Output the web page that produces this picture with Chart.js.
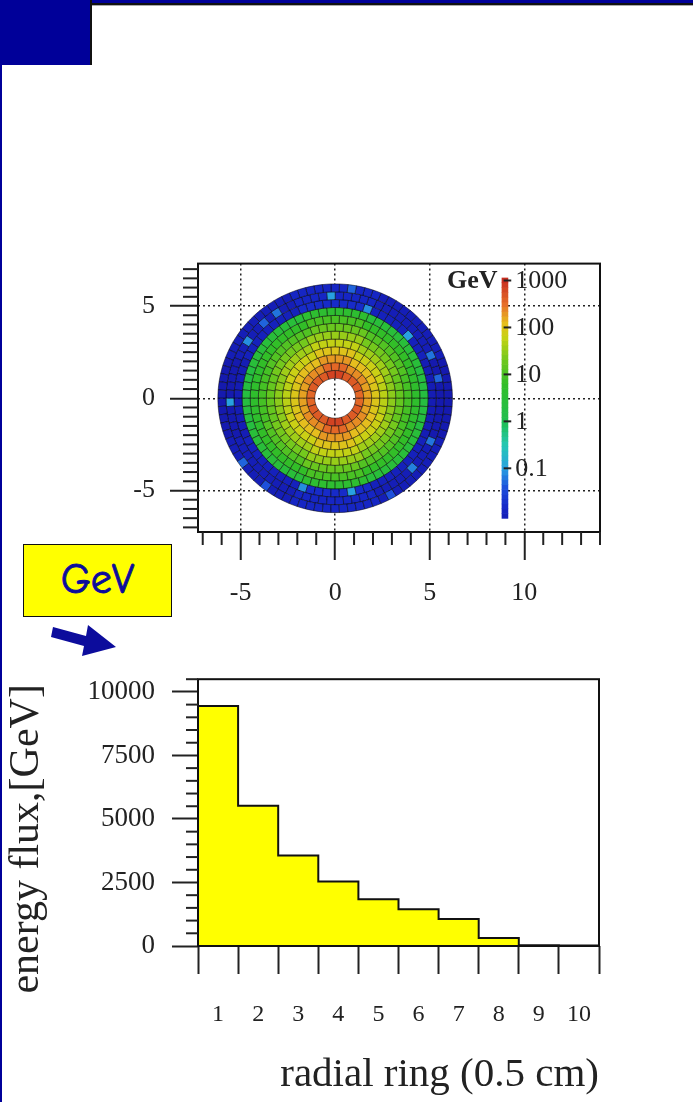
<!DOCTYPE html>
<html>
<head>
<meta charset="utf-8">
<script src="https://cdn.jsdelivr.net/npm/chart.js@4.4.1/dist/chart.umd.min.js"></script>
<style>
  html, body { margin: 0; padding: 0; background: #fff; }
  body { width: 693px; height: 1102px; position: relative; overflow: hidden; }
  .bar-top { position: absolute; left: 0; top: 0; width: 693px; height: 3px; background: #000099; }
  .line-top { position: absolute; left: 90px; top: 3px; width: 603px; height: 2px; background: #111; }
  .line-top2 { position: absolute; left: 92px; top: 5px; width: 601px; height: 1px; background: #aaa; }
  .corner { position: absolute; left: 0; top: 0; width: 90px; height: 65px; background: #000099; border-right: 2px solid #111; }
  .left-edge { position: absolute; left: 0; top: 0; width: 2px; height: 1102px; background: #000099; }
  canvas { position: absolute; }
  #heat { left: 100px; top: 233px; }
  #flux { left: 2px; top: 646px; }
  .gev-box {
    position: absolute; left: 23px; top: 544px; width: 149px; height: 73px;
    box-sizing: border-box; background: #ffff00; border: 1.5px solid #111;
    color: #0c0c9c; font: 42px "Comic Sans MS", "Comic Neue", "DejaVu Sans", sans-serif;
    -webkit-text-stroke: 0.9px #0c0c9c;
    line-height: 70px; text-align: center;
  }
  svg.arrow { position: absolute; left: 0; top: 600px; }
</style>
</head>
<body>
<div class="left-edge"></div>
<div class="bar-top"></div>
<div class="line-top"></div>
<div class="line-top2"></div>
<div class="corner"></div>

<canvas id="heat" width="520" height="387"></canvas>
<canvas id="flux" width="623" height="456"></canvas>

<div class="gev-box">GeV</div>
<svg class="arrow" width="130" height="70">
  <polygon points="53,27 86,36 88,25 116,47 82,56 84,46 51,37" fill="#0c0c9c"/>
</svg>

<script>
// energy flux per radial ring (bottom histogram)
const ringLabels = [1, 2, 3, 4, 5, 6, 7, 8, 9, 10];
const ringFlux = [9450, 5520, 3560, 2540, 1840, 1450, 1060, 310, 30, 15];

// transverse map (top plot): ring edges, cells per ring, GeV per cell
const ringEdges = [1.08, 1.51, 1.93, 2.36, 2.79, 3.21, 3.64, 4.06, 4.49, 4.92, 5.35, 5.77, 6.2];
const ringCells = [20, 26, 32, 38, 44, 50, 56, 62, 68, 74, 80, 86];
const ringGeV = [500, 250, 140, 75, 42, 24, 13, 7, 3, 0.012, 0.01, 0.01];
// E, NE, N, NW, W, SW, S, SE
const sectorScale = [0.7, 0.9, 1.4, 0.9, 0.7, 0.9, 1.4, 0.9];
// [ring, angle deg, GeV] lighter cells in the outer band
const hotCells = [
  [9, 72, 0.08], [9, 41, 0.1], [10, 26, 0.06], [10, 11, 0.05], [10, 94, 0.1],
  [11, 82, 0.05], [10, 123, 0.06], [10, 133, 0.05], [10, 147, 0.08], [10, 180, 0.1],
  [11, 215, 0.05], [11, 234, 0.04], [9, 252, 0.08], [9, 279, 0.1], [11, 300, 0.04],
  [10, 315, 0.07], [10, 336, 0.06]
];
const colorbarTicks = [0.1, 1, 10, 100, 1000];
const colorbarRange = [0.0087, 1150];

const serif = '"Liberation Serif", "Times New Roman", serif';
const colorbarX = [8.8, 9.15];

const paletteStops = [
  [-2.3, [20, 20, 165]],
  [-1.8, [22, 40, 200]],
  [-1.4, [30, 80, 220]],
  [-1.0, [40, 160, 225]],
  [-0.5, [35, 200, 180]],
  [0.0, [30, 190, 80]],
  [0.8, [50, 190, 40]],
  [1.3, [110, 200, 30]],
  [1.8, [200, 210, 20]],
  [2.1, [230, 190, 30]],
  [2.5, [230, 110, 40]],
  [3.1, [195, 35, 30]]
];

function paletteColor(l) {
  if (l <= paletteStops[0][0]) return 'rgb(' + paletteStops[0][1].join(',') + ')';
  for (let i = 1; i < paletteStops.length; i++) {
    const [l1, c1] = paletteStops[i];
    const [l0, c0] = paletteStops[i - 1];
    if (l <= l1) {
      const t = (l - l0) / (l1 - l0);
      const c = c0.map((v, k) => Math.round(v + (c1[k] - v) * t));
      return 'rgb(' + c.join(',') + ')';
    }
  }
  return 'rgb(' + paletteStops[paletteStops.length - 1][1].join(',') + ')';
}

const framePlugin = {
  id: 'frame',
  afterDraw(chart) {
    const a = chart.chartArea, ctx = chart.ctx;
    ctx.save();
    ctx.strokeStyle = '#111';
    ctx.lineWidth = 2;
    ctx.strokeRect(a.left, a.top, a.right - a.left, a.bottom - a.top);
    ctx.restore();
  }
};

function makeMinorTicks(lens) {
  return {
    id: 'minorTicks',
    afterDraw(chart) {
      const ctx = chart.ctx;
      ctx.save();
      ctx.strokeStyle = '#222';
      ctx.lineWidth = 2;
      Object.keys(lens).forEach(id => {
        const scale = chart.scales[id];
        const len = lens[id];
        scale.ticks.forEach(t => {
          if (t.label !== '') return;
          const p = scale.getPixelForValue(t.value);
          ctx.beginPath();
          if (scale.isHorizontal()) {
            ctx.moveTo(p, scale.top);
            ctx.lineTo(p, scale.top + len);
          } else {
            ctx.moveTo(scale.right, p);
            ctx.lineTo(scale.right - len, p);
          }
          ctx.stroke();
        });
      });
      ctx.restore();
    }
  };
}

const heatmapPlugin = {
  id: 'heatmap',
  beforeDatasetsDraw(chart) {
    const xs = chart.scales.x, ys = chart.scales.y, ctx = chart.ctx;
    const cx = xs.getPixelForValue(0), cy = ys.getPixelForValue(0);
    const kx = xs.getPixelForValue(1) - cx, ky = cy - ys.getPixelForValue(1);
    const hot = {};
    hotCells.forEach(h => {
      const j = Math.floor(h[1] / 360 * ringCells[h[0]]);
      hot[h[0] + ':' + j] = h[2];
    });
    ctx.save();
    ctx.lineWidth = 0.9;
    ctx.strokeStyle = 'rgba(0,0,0,0.55)';
    for (let i = 0; i < ringCells.length; i++) {
      const n = ringCells[i];
      const r0 = ringEdges[i], r1 = ringEdges[i + 1];
      for (let j = 0; j < n; j++) {
        const a0 = j / n * 2 * Math.PI, a1 = (j + 1) / n * 2 * Math.PI;
        const mid = (j + 0.5) / n * 360;
        let e = ringGeV[i] * sectorScale[Math.floor(((mid + 22.5) % 360) / 45)];
        if (hot[i + ':' + j] !== undefined) e = hot[i + ':' + j];
        ctx.beginPath();
        ctx.ellipse(cx, cy, r1 * kx, r1 * ky, 0, -a0, -a1, true);
        ctx.ellipse(cx, cy, r0 * kx, r0 * ky, 0, -a1, -a0, false);
        ctx.closePath();
        ctx.fillStyle = paletteColor(Math.log10(e));
        ctx.fill();
        ctx.stroke();
      }
    }
    ctx.restore();
  }
};

const colorbarPlugin = {
  id: 'colorbar',
  afterDatasetsDraw(chart) {
    const xs = chart.scales.x, cb = chart.scales.cb, ctx = chart.ctx;
    const left = xs.getPixelForValue(colorbarX[0]), right = xs.getPixelForValue(colorbarX[1]);
    const lo = Math.log10(colorbarRange[0]), hi = Math.log10(colorbarRange[1]);
    const steps = 50;
    ctx.save();
    for (let k = 0; k < steps; k++) {
      const l0 = lo + (hi - lo) * k / steps, l1 = lo + (hi - lo) * (k + 1) / steps;
      const y0 = cb.getPixelForValue(Math.pow(10, l0)), y1 = cb.getPixelForValue(Math.pow(10, l1));
      ctx.fillStyle = paletteColor((l0 + l1) / 2);
      ctx.fillRect(left, y1, right - left, y0 - y1 + 0.6);
    }
    ctx.strokeStyle = '#222';
    ctx.lineWidth = 2;
    ctx.fillStyle = '#222';
    ctx.font = '26px ' + serif;
    ctx.textAlign = 'left';
    ctx.textBaseline = 'middle';
    colorbarTicks.forEach(v => {
      const y = cb.getPixelForValue(v);
      ctx.beginPath();
      ctx.moveTo(left + 2, y);
      ctx.lineTo(right + 3, y);
      ctx.stroke();
      ctx.fillText(String(v), right + 7, y + 1);
    });
    ctx.font = 'bold 26px ' + serif;
    ctx.textAlign = 'right';
    ctx.fillText('GeV', left - 4, cb.getPixelForValue(colorbarTicks[colorbarTicks.length - 1]) + 1);
    ctx.restore();
  }
};

const isMajor5 = c => c.tick && Math.abs(c.tick.value % 5) < 1e-9;

new Chart(document.getElementById('heat'), {
  type: 'scatter',
  data: { datasets: [] },
  options: {
    responsive: false,
    animation: false,
    devicePixelRatio: 1,
    layout: { padding: { top: 13, right: 20, left: 0, bottom: 0 } },
    plugins: { legend: { display: false }, tooltip: { enabled: false } },
    scales: {
      x: {
        type: 'linear', position: 'bottom', min: -7.25, max: 14,
        afterFit: s => { s.height = 88; },
        border: { display: false, dash: [2, 3] },
        ticks: {
          stepSize: 1, autoSkip: false, maxRotation: 0, includeBounds: false, maxTicksLimit: 200,
          padding: 18, color: '#222', font: { family: serif, size: 26 },
          callback: v => (Math.abs(v % 5) < 1e-9 ? String(v) : '')
        },
        grid: {
          color: c => (isMajor5(c) ? '#222' : 'transparent'),
          lineWidth: 1.5,
          tickLength: 28, tickWidth: 2, tickBorderDash: [100, 0],
          tickColor: c => (isMajor5(c) ? '#222' : 'transparent')
        }
      },
      y: {
        type: 'linear', position: 'left', min: -7.25, max: 7.3,
        afterFit: s => { s.width = 98; },
        border: { display: false, dash: [2, 3] },
        ticks: {
          stepSize: 0.5, autoSkip: false, includeBounds: false, maxTicksLimit: 200,
          padding: 15, color: '#222', font: { family: serif, size: 26 },
          callback: v => (Math.abs(v % 5) < 1e-9 ? String(v) : '')
        },
        grid: {
          color: c => (isMajor5(c) ? '#222' : 'transparent'),
          lineWidth: 1.5,
          tickLength: 28, tickWidth: 2, tickBorderDash: [100, 0],
          tickColor: c => (isMajor5(c) ? '#222' : 'transparent')
        }
      },
      cb: { type: 'logarithmic', axis: 'y', position: 'right', display: false, bounds: 'data', min: 0.0044, max: 2290 }
    }
  },
  plugins: [heatmapPlugin, colorbarPlugin, framePlugin, makeMinorTicks({ x: 13, y: 15 })]
});

const stepPoints = ringLabels.map((r, i) => ({ x: r - 0.5, y: ringFlux[i] }));
stepPoints.push({ x: ringLabels[ringLabels.length - 1] + 0.5, y: ringFlux[ringFlux.length - 1] });

new Chart(document.getElementById('flux'), {
  type: 'line',
  data: {
    datasets: [{
      data: stepPoints,
      stepped: 'before',
      borderColor: '#111',
      borderWidth: 2,
      backgroundColor: '#ffff00',
      fill: 'origin',
      pointRadius: 0
    }]
  },
  options: {
    responsive: false,
    animation: false,
    devicePixelRatio: 1,
    layout: { padding: { top: 18, right: 20, left: 0, bottom: 0 } },
    plugins: { legend: { display: false }, tooltip: { enabled: false } },
    scales: {
      x: {
        type: 'linear', min: 0.5, max: 10.5,
        afterFit: s => { s.height = 156; },
        border: { display: false },
        ticks: {
          stepSize: 0.5, autoSkip: false, maxRotation: 0, maxTicksLimit: 200,
          padding: 26, color: '#222', font: { family: serif, size: 24 },
          callback: v => (Number.isInteger(v) ? String(v) : '')
        },
        grid: {
          drawOnChartArea: false,
          tickLength: 28, tickWidth: 2,
          tickColor: c => (c.tick && Number.isInteger(c.tick.value) ? 'transparent' : '#222')
        },
        title: {
          display: true, text: 'radial ring (0.5 cm)', align: 'end',
          color: '#222', font: { family: serif, size: 41 },
          padding: { top: 0, bottom: 2 }
        }
      },
      y: {
        type: 'linear', min: 0, suggestedMax: 10470,
        afterFit: s => { s.width = 196; },
        border: { display: false },
        ticks: {
          stepSize: 500, autoSkip: false, includeBounds: false, maxTicksLimit: 200,
          padding: 17, color: '#222', font: { family: serif, size: 27 },
          callback: v => (v % 2500 === 0 ? String(v) : '')
        },
        grid: {
          drawOnChartArea: false,
          tickLength: 26, tickWidth: 2,
          tickColor: c => (c.tick && c.tick.value % 2500 === 0 ? '#222' : 'transparent')
        },
        title: {
          display: true, text: 'energy flux,[GeV]     ',
          color: '#222', font: { family: serif, size: 42 },
          padding: { top: 0, bottom: 0 }
        }
      }
    }
  },
  plugins: [framePlugin, makeMinorTicks({ y: 12 })]
});
</script>
</body>
</html>
